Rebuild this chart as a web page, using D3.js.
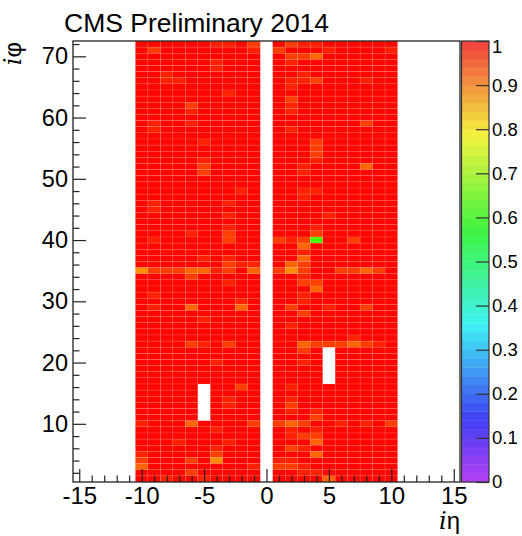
<!DOCTYPE html>
<html><head><meta charset="utf-8">
<script src="https://cdn.jsdelivr.net/npm/d3@7"></script>
<style>
body{margin:0;background:#fff}
text{font-family:"Liberation Sans",Arial,Helvetica,sans-serif;fill:#000}
</style>
</head><body>
<svg id="c" width="522" height="536"></svg>
<script>
// ---- data ----
const title = "CMS Preliminary 2014";
const etaBins = [-10,-9,-8,-7,-6,-5,-4,-3,-2,-1,1,2,3,4,5,6,7,8,9,10];
// one string per iphi row, from iphi = 72 (top) down to 1; codes per ieta (-10..-1 | 1..10)
const cellRows = [
 "0000001102 0211000000", // 72
 "0200000001 2000100001", // 71
 "0000000000 0223000000", // 70
 "0000001000 0100000000", // 69
 "0000001000 0000000000", // 68
 "0010000000 0010000000", // 67
 "0011000000 0112000100", // 66
 "0000000000 0100000000", // 65
 "0000000100 0000000000", // 64
 "0000000000 0200000000", // 63
 "0000200000 0100000000", // 62
 "0000100000 0100000000", // 61
 "0000000000 0000000000", // 60
 "0100100000 0000000200", // 59
 "0100000000 0100000000", // 58
 "0000000000 0000000000", // 57
 "0000010000 0002000000", // 56
 "0000000000 0002000000", // 55
 "0000000000 0002000000", // 54
 "0000010000 0001000000", // 53
 "0000020000 0010000300", // 52
 "0000020000 0010000000", // 51
 "0000000000 0000000000", // 50
 "0000000000 0000000000", // 49
 "0000000010 0011000000", // 48
 "0000000000 0010000000", // 47
 "0100000100 0000000000", // 46
 "0100000000 0000000000", // 45
 "0000000100 0000100000", // 44
 "0000000000 0000000000", // 43
 "0000000100 0001000000", // 42
 "0000100200 0002000000", // 41
 "0100000200 212g002000", // 40
 "0000000000 0030000000", // 39
 "0000000000 0010000000", // 38
 "0000010100 0030000000", // 37
 "0000000211 0320000000", // 36
 "4222331203 2420022320", // 35
 "0000200000 0010000000", // 34
 "0000000100 0022000000", // 33
 "0000000000 0003000000", // 32
 "0100000000 0010000000", // 31
 "0000000010 0010000000", // 30
 "0100300030 0200100200", // 29
 "0000000000 0020000000", // 28
 "0000010000 0000000000", // 27
 "0000000000 0100000000", // 26
 "0000000000 0000000000", // 25
 "0000000000 0000001000", // 24
 "0000210200 0032223210", // 23
 "0000000000 0020.00000", // 22
 "0000000000 0000.00000", // 21
 "0000001000 0010.00000", // 20
 "0000000000 0000.00000", // 19
 "0000000000 0000.00000", // 18
 "0000000000 0000.00000", // 17
 "00000.0020 0100000000", // 16
 "00000.0000 0000000000", // 15
 "00000.0100 0100000000", // 14
 "00000.0100 0200000000", // 13
 "00000.0000 0101000000", // 12
 "00000.0000 0002000000", // 11
 "1000300002 2320010102", // 10
 "0000001000 0101000000", // 9
 "0000000000 0122000000", // 8
 "0001000100 0003000000", // 7
 "0000001000 0210000000", // 6
 "1000002000 0003000000", // 5
 "2000204000 1100000000", // 4
 "3000000001 2210000000", // 3
 "0000200000 0011000000", // 2
 "0010010000 0000300000"  // 1
];
const levelCodes  = ["0", "1", "2", "3", "4", "g"];
const levelValues = [0.995, 0.972, 0.948, 0.915, 0.88, 0.63];
const xTicks = [-15, -10, -5, 0, 5, 10, 15];
const yTicks = [10, 20, 30, 40, 50, 60, 70];
const zTicks = [0, 0.1, 0.2, 0.3, 0.4, 0.5, 0.6, 0.7, 0.8, 0.9, 1];

// ---- build cells ----
const cells = [];
cellRows.forEach((row, i) => {
  const phi = 72 - i;
  const codes = row.replace(/ /g, "");
  for (let j = 0; j < codes.length; j++) {
    const c = codes[j];
    if (c === ".") continue;
    cells.push({eta: etaBins[j], phi: phi, v: levelValues[levelCodes.indexOf(c)]});
  }
});

// ---- scales ----
const L = 73, R = 460, T = 41, B = 482;
const x = d3.scaleLinear().domain([-15.5, 15.5]).range([L, R]);
const y = d3.scaleLinear().domain([0.5, 72.5]).range([B, T]);
const z = d3.scaleLinear().domain([0, 1]).range([B, T]);
const hueOf = v => 280 * (1 - v);
const cellColor = v => d3.hsl(hueOf(v), 1, 0.5).toString();
const barColor = v => d3.hsl(hueOf(v), 0.88, 0.6).toString();
const FONT = '"Liberation Sans",Arial,sans-serif';

const svg = d3.select("#c");

// cells
svg.append("g").selectAll("rect").data(cells).join("rect")
  .attr("x", d => x(d.eta - 0.5))
  .attr("y", d => y(d.phi + 0.5))
  .attr("width", d => x(d.eta + 0.5) - x(d.eta - 0.5))
  .attr("height", d => y(d.phi - 0.5) - y(d.phi + 0.5))
  .attr("fill", d => cellColor(d.v))
  .attr("stroke", "rgba(255,170,160,0.35)")
  .attr("stroke-width", 0.5);

// frame
svg.append("rect").attr("x", L).attr("y", T).attr("width", R - L).attr("height", B - T)
  .attr("fill", "none").attr("stroke", "#222").attr("stroke-width", 1.3);

// x axis
const xMinor = d3.range(-15, 16).filter(v => v % 5 !== 0);
const gx = svg.append("g").attr("transform", `translate(0,${B})`);
gx.call(d3.axisBottom(x).tickValues(xMinor).tickFormat("").tickSizeInner(-6.5).tickSizeOuter(0));
gx.select(".domain").remove();
const gx2 = svg.append("g").attr("transform", `translate(0,${B})`);
gx2.call(d3.axisBottom(x).tickValues(xTicks).tickFormat(d3.format("d")).tickSizeInner(-13).tickSizeOuter(0).tickPadding(5));
gx2.select(".domain").remove();
gx2.selectAll("text").attr("font-size", 24).attr("font-family", FONT).text(d => d < 0 ? "-" + Math.abs(d) : d);

// y axis
const yMinor = d3.range(2, 73, 2).filter(v => v % 10 !== 0);
const gy = svg.append("g").attr("transform", `translate(${L},0)`);
gy.call(d3.axisLeft(y).tickValues(yMinor).tickFormat("").tickSizeInner(-6.5).tickSizeOuter(0));
gy.select(".domain").remove();
const gy2 = svg.append("g").attr("transform", `translate(${L},0)`);
gy2.call(d3.axisLeft(y).tickValues(yTicks).tickFormat(d3.format("d")).tickSizeInner(-13).tickSizeOuter(0).tickPadding(5));
gy2.select(".domain").remove();
gy2.selectAll("text").attr("font-size", 23.5).attr("font-family", FONT);
svg.selectAll(".tick line").attr("stroke", "#222").attr("stroke-width", 1.2);

// colour bar
const CL = 461.5, CR = 489;
const bands = d3.range(50).map(i => i / 50);
svg.append("g").selectAll("rect").data(bands).join("rect")
  .attr("x", CL).attr("width", CR - CL)
  .attr("y", d => z(d + 0.02)).attr("height", d => z(d) - z(d + 0.02) + 0.4)
  .attr("fill", d => barColor(d + 0.01));
svg.append("rect").attr("x", CL).attr("y", T).attr("width", CR - CL).attr("height", B - T)
  .attr("fill", "none").attr("stroke", "#333").attr("stroke-width", 1.2);
const gz = svg.append("g").attr("transform", `translate(${CR},0)`);
gz.call(d3.axisRight(z).tickValues(zTicks).tickSizeInner(-13).tickSizeOuter(0).tickPadding(3)
  .tickFormat(d => d === 0 ? "0" : d === 1 ? "1" : d3.format(".1f")(d)));
gz.select(".domain").remove();
gz.selectAll(".tick line").attr("stroke", "#333").attr("stroke-width", 1.2);
gz.selectAll("text").attr("font-size", 18.5).attr("font-family", FONT)
  .attr("dy", d => d === 1 ? "0.6em" : "0.32em");

// title and axis titles
svg.append("text").attr("x", 64).attr("y", 31.5).attr("font-size", 26.5).text(title);
const xt = svg.append("text").attr("x", R).attr("y", 529).attr("text-anchor", "end").attr("font-size", 24);
xt.append("tspan").attr("font-style", "italic").attr("font-family", '"DejaVu Serif",serif').text("i");
xt.append("tspan").text("η");
const yt = svg.append("text").attr("transform", `translate(21,${T + 1}) rotate(-90)`).attr("text-anchor", "end").attr("font-size", 24);
yt.append("tspan").attr("font-style", "italic").attr("font-family", '"DejaVu Serif",serif').text("i");
yt.append("tspan").text("φ");
</script>
</body></html>
